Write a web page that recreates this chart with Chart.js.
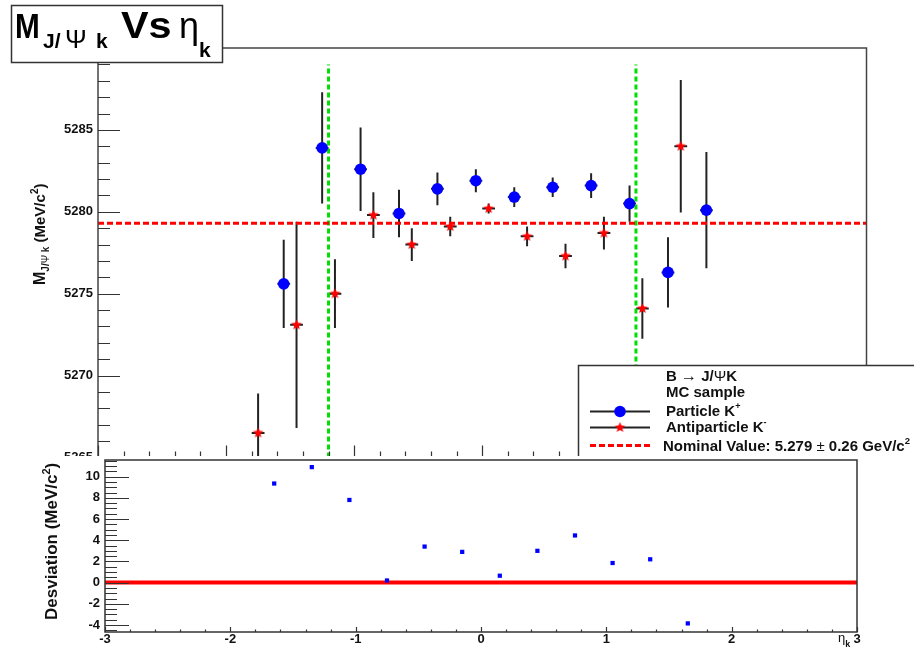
<!DOCTYPE html>
<html>
<head>
<meta charset="utf-8">
<title>M J/Psi k vs eta k</title>
<script src="https://cdn.jsdelivr.net/npm/chart.js@4.4.0/dist/chart.umd.min.js"></script>
<style>
  html, body { margin: 0; padding: 0; background: #fff; }
  #wrap { position: relative; width: 914px; height: 652px; overflow: hidden; background: #fff; }
  #top-canvas { position: absolute; left: 0; top: 0; }
  #bottom-canvas { position: absolute; left: 0; top: 456px; }
</style>
</head>
<body>
<div id="wrap">
  <canvas id="top-canvas" width="914" height="468"></canvas>
  <canvas id="bottom-canvas" width="914" height="196"></canvas>
</div>
<script>
// antiparticle K- (red stars)
const etaRed = [-1.75, -1.45, -1.15, -0.85, -0.55, -0.25, 0.05, 0.35, 0.65, 0.95, 1.25, 1.55];
const massRed = [5266.5, 5273.1, 5275.0, 5279.8, 5278.0, 5279.1, 5280.2, 5278.5, 5277.3, 5278.7, 5274.1, 5284.0];
const errRed = [2.4, 6.3, 2.1, 1.4, 1.0, 0.6, 0.3, 0.6, 0.75, 1.0, 1.85, 4.05];

// particle K+ (blue circles)
const etaBlue = [-1.55, -1.25, -0.95, -0.65, -0.35, -0.05, 0.25, 0.55, 0.85, 1.15, 1.45, 1.75];
const massBlue = [5275.6, 5283.9, 5282.6, 5279.9, 5281.4, 5281.9, 5280.9, 5281.5, 5281.6, 5280.5, 5276.3, 5280.1];
const errBlue = [2.7, 3.4, 2.55, 1.45, 1.0, 0.7, 0.6, 0.6, 0.75, 1.1, 2.15, 3.55];

// deviation panel
const etaDev = [-1.65, -1.35, -1.05, -0.75, -0.45, -0.15, 0.15, 0.45, 0.75, 1.05, 1.35, 1.65];
const devValues = [9.35, 10.9, 7.8, 0.2, 3.4, 2.9, 0.65, 3.0, 4.45, 1.85, 2.2, -3.85];

const nominalMass = 5279.3;
const etaCuts = [-1.2, 1.2];
const massTicks = [5265, 5270, 5275, 5280, 5285];
const devTicks = [-4, -2, 0, 2, 4, 6, 8, 10];
const etaTicks = [-3, -2, -1, 0, 1, 2, 3];

const FONT = '"Liberation Sans", Arial, Helvetica, sans-serif';
const ERR_HALF_WIDTH = 0.05;

const makeStar = (color, r) => {
    const c = document.createElement('canvas');
    const s = Math.ceil(r * 2 + 2);
    c.width = s;
    c.height = s;
    const g = c.getContext('2d');
    g.fillStyle = color;
    g.beginPath();
    for (let i = 0; i < 10; i++) {
        const rad = i % 2 ? r * 0.45 : r;
        const a = -Math.PI / 2 + i * Math.PI / 5;
        g.lineTo(s / 2 + rad * Math.cos(a), s / 2 + rad * Math.sin(a));
    }
    g.closePath();
    g.fill();
    return c;
};
const redStar = makeStar('#ff0000', 5.5);

// text made of pieces (sub/superscripts), drawn along a baseline
const drawRich = (ctx, pieces, x, y) => {
    let cx = x;
    let cy = y;
    pieces.forEach((p) => {
        if (p.x !== undefined) cx = p.x;
        if (p.y !== undefined) cy = p.y;
        const sx = p.sx || 1;
        ctx.font = `${p.w || 'bold'} ${p.s}px ${FONT}`;
        ctx.save();
        ctx.translate(cx, cy + (p.dy || 0));
        ctx.scale(sx, 1);
        ctx.fillText(p.t, 0, 0);
        ctx.restore();
        cx += ctx.measureText(p.t).width * sx;
    });
};

const drawInnerTicks = (ctx, scale, area, axis, from, to, step, majorStep, majorLen, minorLen) => {
    const n = Math.round((to - from) / step);
    ctx.beginPath();
    for (let i = 0; i <= n; i++) {
        const v = from + i * step;
        const isMajor = Math.abs(v / majorStep - Math.round(v / majorStep)) < 1e-6;
        const len = isMajor ? majorLen : minorLen;
        const p = Math.round(scale.getPixelForValue(v)) + 0.5;
        if (axis === 'y') {
            ctx.moveTo(area.left, p);
            ctx.lineTo(area.left + len, p);
        } else {
            ctx.moveTo(p, area.bottom);
            ctx.lineTo(p, area.bottom - len);
        }
    }
    ctx.stroke();
};

// keep the plot area where the layout padding puts it
const fixAxis = (size) => (s) => {
    if (s.isHorizontal()) s.height = size; else s.width = size;
    s.paddingTop = 0;
    s.paddingBottom = 0;
    s.paddingLeft = 0;
    s.paddingRight = 0;
};

const errorBarsPlugin = {
    id: 'errorBars',
    beforeDatasetsDraw(chart) {
        const { ctx, chartArea: area, scales: { x, y } } = chart;
        ctx.save();
        ctx.beginPath();
        ctx.rect(area.left, area.top, area.right - area.left, area.bottom - area.top);
        ctx.clip();
        ctx.strokeStyle = '#222';
        ctx.lineWidth = 2;
        const sets = [[etaBlue, massBlue, errBlue], [etaRed, massRed, errRed]];
        sets.forEach(([xs, ys, es]) => {
            xs.forEach((xv, i) => {
                const px = x.getPixelForValue(xv);
                const py = y.getPixelForValue(ys[i]);
                ctx.beginPath();
                ctx.moveTo(px, y.getPixelForValue(ys[i] + es[i]));
                ctx.lineTo(px, y.getPixelForValue(ys[i] - es[i]));
                ctx.moveTo(x.getPixelForValue(xv - ERR_HALF_WIDTH), py);
                ctx.lineTo(x.getPixelForValue(xv + ERR_HALF_WIDTH), py);
                ctx.stroke();
            });
        });
        ctx.restore();
    }
};

const topDecorPlugin = {
    id: 'topDecor',
    afterDraw(chart) {
        const { ctx, chartArea: area, scales: { x, y } } = chart;
        ctx.save();
        // frame
        ctx.strokeStyle = '#444';
        ctx.lineWidth = 1.5;
        ctx.strokeRect(area.left, area.top, area.right - area.left, area.bottom - area.top);
        // ticks pointing inside
        ctx.lineWidth = 1.2;
        ctx.strokeStyle = '#333';
        drawInnerTicks(ctx, y, area, 'y', 5265, 5290, 1, 5, 22, 12);
        drawInnerTicks(ctx, x, area, 'x', -3, 3, 0.2, 1, 12, 6);

        // legend box
        ctx.fillStyle = '#fff';
        ctx.fillRect(578, 365, 340, 110);
        ctx.strokeStyle = '#333';
        ctx.lineWidth = 1.5;
        ctx.strokeRect(578.5, 365.5, 340, 110);

        ctx.fillStyle = '#111';
        ctx.textBaseline = 'alphabetic';
        ctx.textAlign = 'left';
        drawRich(ctx, [
            { t: 'B ', s: 15 }, { t: '\u2192', s: 16, w: 'normal' }, { t: ' J/', s: 15 },
            { t: '\u03A8', s: 15, w: 'normal' }, { t: 'K', s: 15 }
        ], 666, 381);
        drawRich(ctx, [{ t: 'MC sample', s: 15 }], 666, 397);
        drawRich(ctx, [{ t: 'Particle K', s: 15 }, { t: '+', s: 9, dy: -7 }], 666, 416);
        drawRich(ctx, [{ t: 'Antiparticle K', s: 15 }, { t: '-', s: 9, dy: -7 }], 666, 432);
        drawRich(ctx, [
            { t: 'Nominal Value: 5.279 ', s: 15 }, { t: '\u00B1', s: 15, w: 'normal' },
            { t: ' 0.26 GeV/c', s: 15 }, { t: '2', s: 9.5, dy: -7 }
        ], 663, 451);

        // legend samples
        ctx.strokeStyle = '#222';
        ctx.lineWidth = 2;
        ctx.beginPath();
        ctx.moveTo(590, 411.5); ctx.lineTo(650, 411.5);
        ctx.moveTo(590, 427.5); ctx.lineTo(650, 427.5);
        ctx.stroke();
        ctx.fillStyle = '#0000ff';
        ctx.beginPath();
        ctx.arc(620, 411.5, 5.8, 0, Math.PI * 2);
        ctx.fill();
        ctx.drawImage(redStar, 620 - redStar.width / 2, 427.5 - redStar.height / 2);
        ctx.strokeStyle = '#ff0000';
        ctx.lineWidth = 3;
        ctx.setLineDash([6, 3]);
        ctx.beginPath();
        ctx.moveTo(590, 445.5); ctx.lineTo(650, 445.5);
        ctx.stroke();
        ctx.setLineDash([]);

        // title box
        ctx.fillStyle = '#fff';
        ctx.fillRect(11, 5, 211, 57);
        ctx.strokeStyle = '#333';
        ctx.lineWidth = 1.5;
        ctx.strokeRect(11.5, 5.5, 211, 57);
        ctx.fillStyle = '#000';
        drawRich(ctx, [
            { t: 'M', s: 35, x: 15, y: 38, sx: 0.85 },
            { t: 'J/', s: 21, x: 43, y: 48 },
            { t: '\u03A8', s: 26, w: 'normal', x: 65 },
            { t: 'k', s: 21, x: 96 },
            { t: 'Vs', s: 36, x: 121, y: 38, sx: 1.15 },
            { t: '\u03B7', s: 36, w: 'normal', x: 179, y: 38 },
            { t: 'k', s: 21, x: 199, y: 57 }
        ], 0, 0);

        // y axis title
        ctx.save();
        ctx.translate(45, 285);
        ctx.rotate(-Math.PI / 2);
        ctx.fillStyle = '#111';
        drawRich(ctx, [
            { t: 'M', s: 16 }, { t: 'J/', s: 10, dy: 4 }, { t: '\u03A8', s: 10, w: 'normal', dy: 4 },
            { t: ' k', s: 10, dy: 4 }, { t: ' (MeV/c', s: 15 }, { t: '2', s: 10, dy: -7 }, { t: ')', s: 15 }
        ], 0, 0);
        ctx.restore();
        ctx.restore();
    }
};

const bottomDecorPlugin = {
    id: 'bottomDecor',
    beforeDraw(chart) {
        const { ctx, width, height } = chart;
        ctx.save();
        ctx.fillStyle = '#fff';
        ctx.fillRect(0, 0, width, height);
        ctx.restore();
    },
    afterDraw(chart) {
        const { ctx, chartArea: area, scales: { x, y } } = chart;
        ctx.save();
        ctx.strokeStyle = '#333';
        ctx.lineWidth = 1.5;
        ctx.strokeRect(area.left, area.top, area.right - area.left, area.bottom - area.top);
        ctx.lineWidth = 1.2;
        drawInnerTicks(ctx, y, area, 'y', -4.5, 11.5, 0.5, 2, 24, 12);
        drawInnerTicks(ctx, x, area, 'x', -3, 3, 0.2, 1, 5, 2.5);

        ctx.fillStyle = '#111';
        ctx.save();
        ctx.translate(57, 164);
        ctx.rotate(-Math.PI / 2);
        drawRich(ctx, [{ t: 'Desviation (MeV/c', s: 17 }, { t: '2', s: 11, dy: -7 }, { t: ')', s: 17 }], 0, 0);
        ctx.restore();

        drawRich(ctx, [{ t: '\u03B7', s: 13, w: 'normal' }, { t: 'k', s: 9, dy: 5 }], 838, 186);
        ctx.restore();
    }
};

const tickFont = { family: FONT, size: 13, weight: 'bold' };
const plainLabel = (v) => String(v);

new Chart(document.getElementById('top-canvas'), {
    type: 'scatter',
    data: {
        datasets: [{
            label: 'Particle K+',
            data: etaBlue.map((e, i) => ({ x: e, y: massBlue[i] })),
            pointStyle: 'circle',
            pointRadius: 5.8,
            pointBackgroundColor: '#0000ff',
            pointBorderWidth: 0
        }, {
            label: 'Antiparticle K-',
            data: etaRed.map((e, i) => ({ x: e, y: massRed[i] })),
            pointStyle: redStar,
            pointRadius: 5.5
        }, {
            label: 'Nominal',
            data: [{ x: -3, y: nominalMass }, { x: 3, y: nominalMass }],
            showLine: true,
            borderColor: '#ff0000',
            borderWidth: 3,
            borderDash: [6, 3],
            pointRadius: 0
        }, {
            label: 'cut low',
            data: [{ x: etaCuts[0], y: 5265 }, { x: etaCuts[0], y: 5289 }],
            showLine: true,
            borderColor: '#00e000',
            borderWidth: 3,
            borderDash: [5, 3],
            pointRadius: 0
        }, {
            label: 'cut high',
            data: [{ x: etaCuts[1], y: 5265 }, { x: etaCuts[1], y: 5289 }],
            showLine: true,
            borderColor: '#00e000',
            borderWidth: 3,
            borderDash: [5, 3],
            pointRadius: 0
        }]
    },
    options: {
        responsive: false,
        animation: false,
        devicePixelRatio: 1,
        layout: { padding: { left: 38, right: 47.5, top: 48, bottom: 10.5 } },
        plugins: { legend: { display: false }, tooltip: { enabled: false } },
        scales: {
            x: { type: 'linear', min: -3, max: 3, display: false },
            y: {
                type: 'linear',
                min: 5265,
                max: 5290,
                afterBuildTicks: (s) => { s.ticks = massTicks.map((v) => ({ value: v })); },
                afterFit: fixAxis(60),
                grid: { display: false, drawTicks: false },
                border: { display: false },
                ticks: { font: tickFont, color: '#111', padding: 5, autoSkip: false, callback: plainLabel }
            }
        }
    },
    plugins: [errorBarsPlugin, topDecorPlugin]
});

new Chart(document.getElementById('bottom-canvas'), {
    type: 'scatter',
    data: {
        datasets: [{
            label: 'Deviation',
            data: etaDev.map((e, i) => ({ x: e, y: devValues[i] })),
            pointStyle: 'rect',
            pointRadius: 3,
            pointBackgroundColor: '#0000ff',
            pointBorderWidth: 0
        }, {
            label: 'zero',
            data: [{ x: -3, y: 0 }, { x: 3, y: 0 }],
            showLine: true,
            borderColor: '#ff0000',
            borderWidth: 4,
            pointRadius: 0
        }]
    },
    options: {
        responsive: false,
        animation: false,
        devicePixelRatio: 1,
        layout: { padding: { left: 45, right: 57, top: 3, bottom: 0 } },
        plugins: { legend: { display: false }, tooltip: { enabled: false } },
        scales: {
            x: {
                type: 'linear',
                min: -3,
                max: 3,
                afterBuildTicks: (s) => { s.ticks = etaTicks.map((v) => ({ value: v })); },
                afterFit: fixAxis(20),
                grid: { display: false, drawTicks: false },
                border: { display: false },
                ticks: { font: tickFont, color: '#111', padding: 0, autoSkip: false, maxRotation: 0, callback: plainLabel }
            },
            y: {
                type: 'linear',
                min: -4.66,
                max: 11.57,
                afterBuildTicks: (s) => { s.ticks = devTicks.map((v) => ({ value: v })); },
                afterFit: fixAxis(60),
                grid: { display: false, drawTicks: false },
                border: { display: false },
                ticks: { font: tickFont, color: '#111', padding: 5, autoSkip: false, callback: plainLabel }
            }
        }
    },
    plugins: [bottomDecorPlugin]
});
</script>
</body>
</html>
